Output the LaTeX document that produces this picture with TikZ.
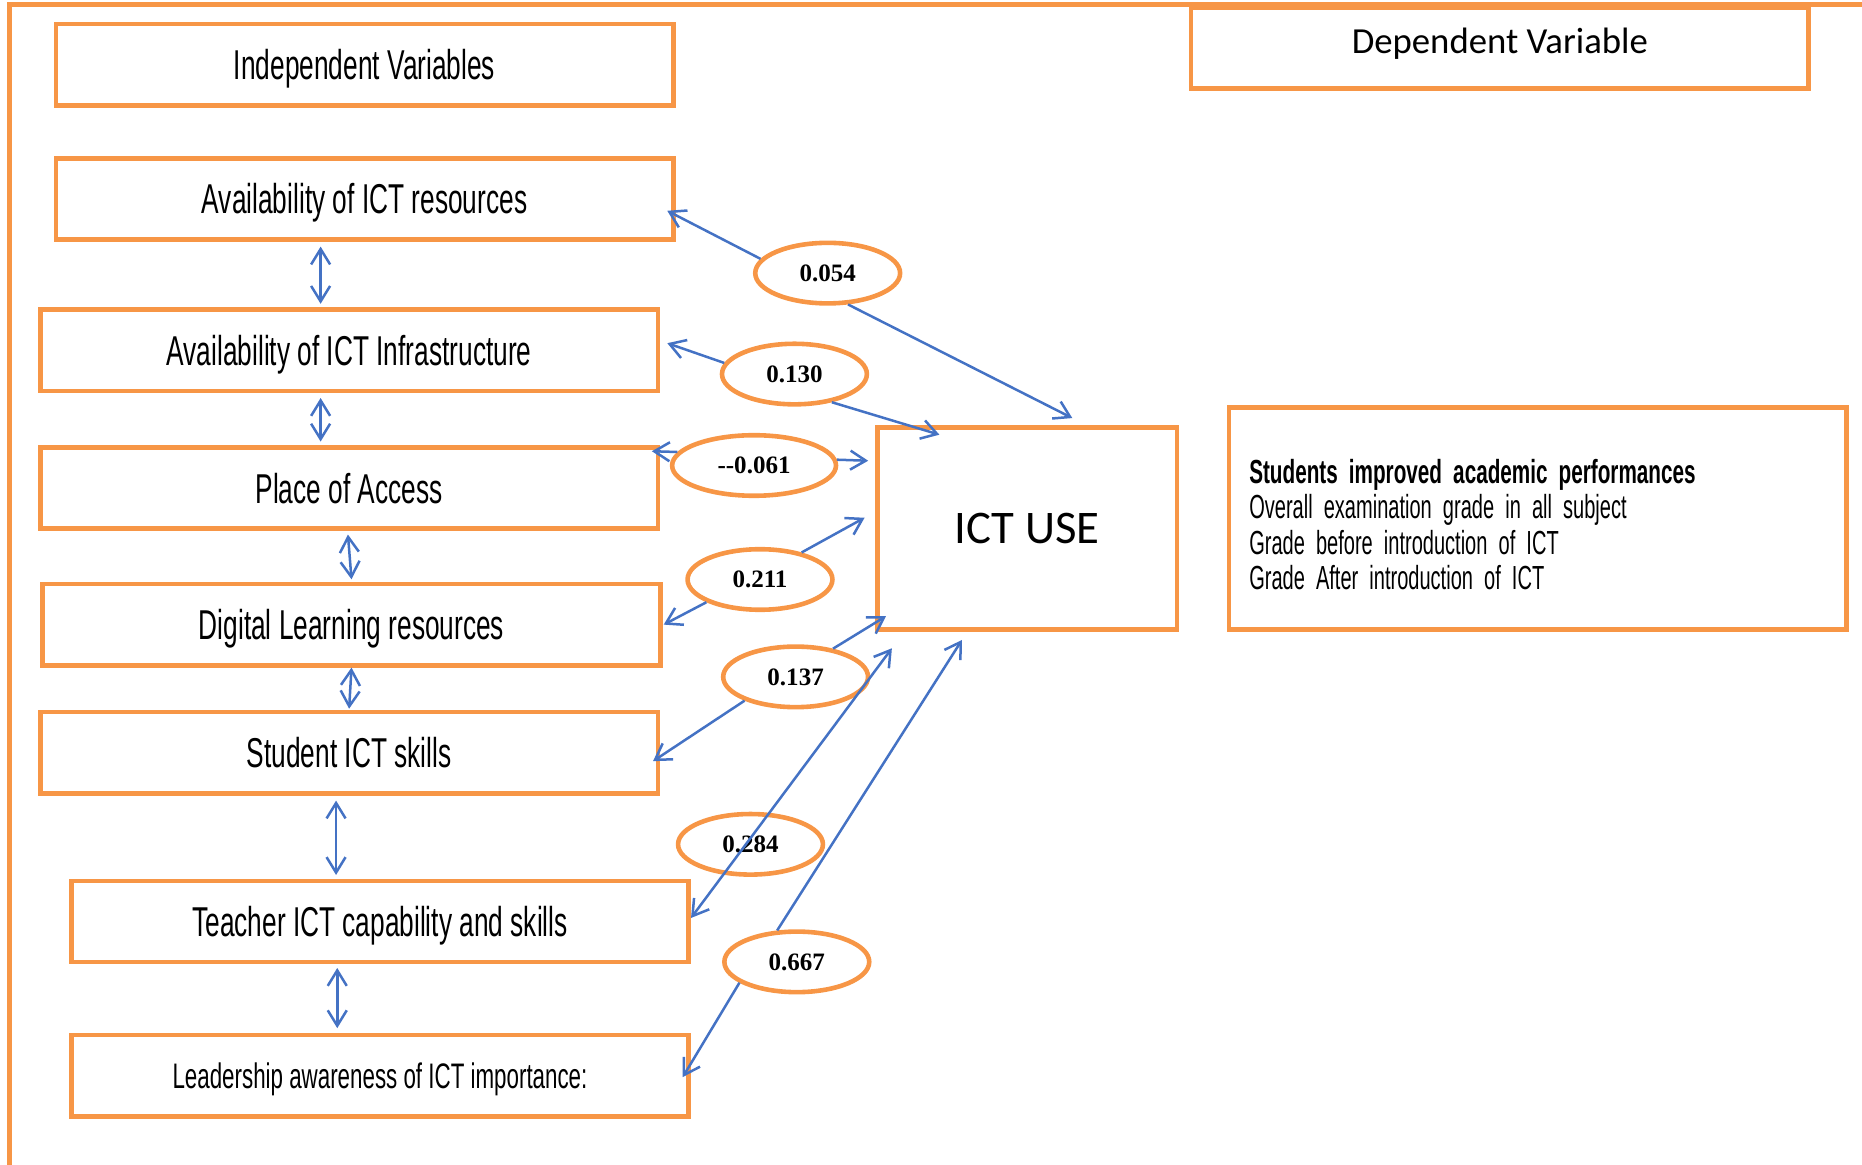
\documentclass[tikz,border=0pt]{standalone}
\usepackage{fontspec}
\usetikzlibrary{shapes.geometric,arrows.meta}
\newfontfamily\agency[FakeStretch=0.63]{Liberation Sans}
\newfontfamily\agencynarrow[FakeStretch=0.60, WordSpace=0.65, BoldFeatures={FakeStretch=0.62}]{Liberation Sans}
\newfontfamily\calib{Carlito}
\newfontfamily\numfont{Liberation Serif}
\definecolor{boxorange}{RGB}{247,150,70}
\definecolor{arrowblue}{RGB}{68,114,196}
\tikzset{
  frame/.style={draw=boxorange, line width=1.1pt, minimum width=52mm, minimum height=6.85mm, inner sep=0pt},
  varbox/.style={frame, text height=2.9mm, text depth=0.38mm, font=\agency\fontsize{10}{12}\selectfont},
  coef/.style={draw=boxorange, line width=1.1pt, ellipse, minimum width=12.2mm, minimum height=5.1mm, inner sep=0pt, font=\numfont\bfseries\fontsize{6}{7}\selectfont},
  link/.style={draw=arrowblue, line width=0.6pt, -{Straight Barb[length=1.3mm,width=1.6mm]}},
  dlink/.style={link, {Straight Barb[length=1.3mm,width=1.6mm]}-{Straight Barb[length=1.3mm,width=1.6mm]}}
}
\begin{document}
\begin{tikzpicture}[x=0.1mm, y=-0.1mm]
  \useasboundingbox (0,0) rectangle (1568,981);
  \draw[boxorange, line width=1.1pt] (8,981) -- (8,4) -- (1568,4);

  % headings
  \node[varbox] (indep) at (307,54.5) {Independent Variables};
  \node[frame, text height=2.4mm, text depth=1.5mm, font=\calib\fontsize{8.8}{10}\selectfont] (dep) at (1263,40.5) {Dependent Variable};

  % independent variables
  \node[varbox] (res) at (307,167.5) {Availability of ICT resources};
  \node[varbox] (infra) at (294,295) {Availability of ICT Infrastructure};
  \node[varbox] (place) at (294,411) {Place of Access};
  \node[varbox] (digital) at (296,526) {Digital Learning resources};
  \node[varbox] (student) at (294,634) {Student ICT skills};
  \node[varbox] (teacher) at (320,776) {Teacher ICT capability and skills};
  \node[varbox, text height=2.6mm, text depth=0.46mm, font=\agency\fontsize{8.5}{10}\selectfont] (leader) at (320,906) {Leadership awareness of ICT importance:};

  % dependent side
  \node[frame, minimum width=25.2mm, minimum height=17mm, font=\calib\fontsize{11.2}{13}\selectfont] (ict) at (865,445) {ICT USE};
  \node[frame, minimum height=18.7mm, text width=48.6mm, inner xsep=1.7mm, align=left, font=\agencynarrow\fontsize{8}{8.5}\selectfont] (perf) at (1295,436.5)
    {\rule{0pt}{3.1mm}{\bfseries Students improved academic performances}\\
     Overall examination grade in all subject\\
     Grade before introduction of ICT\\
     Grade After introduction of ICT};

  % coefficients
  \node[coef] (c1) at (697,230) {0.054};
  \node[coef] (c2) at (669,315) {0.130};
  \node[coef, minimum width=13.8mm] (c3) at (635,392) {--0.061};
  \node[coef] (c4) at (640,488) {0.211};
  \node[coef] (c5) at (670,570) {0.137};
  \node[coef] (c6) at (632,711) {0.284};
  \node[coef] (c7) at (671,810) {0.667};

  \draw[link] (c1.168) -- ([shift={(-7,10)}]res.east);
  \draw[link] (c1.303) -- ([shift={(38,-6)}]ict.north);
  \draw[link] (c2.171) -- ([shift={(6,-6)}]infra.east);
  \draw[link] (c2.323) -- ([shift={(54,8)}]ict.north west);
  \draw[link] (c3.170) -- ([shift={(-7,-31)}]place.east);
  \draw[link] (c3.4) -- ([shift={(-6,-57)}]ict.west);
  \draw[link] (c4.33) -- ([shift={(-9,-9)}]ict.west);
  \draw[link] (c4.203) -- ([shift={(1,0)}]digital.east);
  \draw[link] (c5.37) -- ([shift={(9,-13)}]ict.south west);
  \draw[link] (c5.205) -- ([shift={(-6,7)}]student.east);
  \draw[dlink] ([shift={(0,-3)}]teacher.east) -- ([shift={(14,14)}]ict.south west);
  \draw[link] (c7.122) -- ([shift={(73,7)}]ict.south west);
  \draw[link] (c7.200) -- ([shift={(-7,1)}]leader.east);

  % links between the independent variables
  \draw[dlink] ([shift={(-37,4)}]res.south) -- ([shift={(-24,-3)}]infra.north);
  \draw[dlink] ([shift={(-24,4)}]infra.south) -- ([shift={(-24,-3)}]place.north);
  \draw[dlink] ([shift={(-1,3)}]place.south) -- ([shift={(0,-2)}]digital.north);
  \draw[dlink] ([shift={(0,0)}]digital.south) -- ([shift={(0,-1)}]student.north);
  \draw[dlink] ([shift={(-11,4)}]student.south) -- ([shift={(-37,-3)}]teacher.north);
  \draw[dlink] ([shift={(-36,3)}]teacher.south) -- ([shift={(-36,-4)}]leader.north);
\end{tikzpicture}
\end{document}
